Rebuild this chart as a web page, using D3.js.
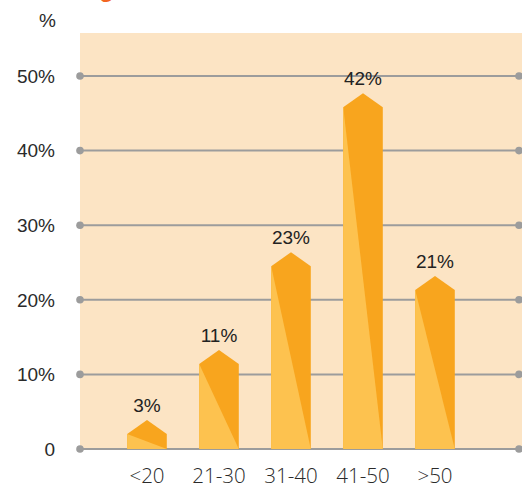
<!DOCTYPE html>
<html><head><meta charset="utf-8">
<script src="https://cdn.jsdelivr.net/npm/d3@7/dist/d3.min.js"></script>
<style>html,body{margin:0;padding:0;background:#fff;}svg{display:block;}</style>
</head><body>
<script>
const categories = ["<20", "21-30", "31-40", "41-50", ">50"];
const values = [3, 11, 23, 42, 21];              // labelled percentages
const drawnHeights = [2.0, 11.4, 24.5, 45.8, 21.3]; // bar shoulder heights as drawn (%)
const yTicks = [0, 10, 20, 30, 40, 50];
const yTickLabels = ["0", "10%", "20%", "30%", "40%", "50%"];

const W = 522, H = 488;
const svg = d3.select("body").append("svg").attr("width", W).attr("height", H);

const y = d3.scaleLinear().domain([0, 50]).range([449, 76]);
const x = d3.scaleBand().domain(categories).range([111, 471]).paddingInner(0.45).paddingOuter(0.225);

// title (cut off at top, as in the reference)
svg.append("text").attr("x", 82).attr("y", -3).attr("fill", "#F26522")
  .attr("font-family", "Liberation Sans, Arial, sans-serif").attr("font-weight", "bold")
  .attr("font-size", 24).text("Age");

// plot background
svg.append("rect").attr("x", 80).attr("y", 33).attr("width", W - 80).attr("height", y(0) - 33).attr("fill", "#FCE4C4");

// gridlines
const grid = svg.append("g");
yTicks.forEach(t => {
  grid.append("line").attr("x1", 80).attr("x2", 519).attr("y1", y(t)).attr("y2", y(t))
    .attr("stroke", "#9C9C9C").attr("stroke-width", 2);
  grid.append("circle").attr("cx", 80).attr("cy", y(t)).attr("r", 3.8).attr("fill", "#9C9C9C");
  grid.append("circle").attr("cx", 519).attr("cy", y(t)).attr("r", 3.8).attr("fill", "#9C9C9C");
});

// y labels
svg.append("g").selectAll("text").data(yTicks).join("text")
  .attr("x", 55).attr("y", d => y(d)).attr("dy", "0.36em").attr("text-anchor", "end")
  .attr("font-family", "Liberation Sans, Arial, sans-serif").attr("font-size", 19).attr("fill", "#2a2a2a")
  .text((d, i) => yTickLabels[i]);
svg.append("text").attr("x", 56).attr("y", 27).attr("text-anchor", "end")
  .attr("font-family", "Liberation Sans, Arial, sans-serif").attr("font-size", 19).attr("fill", "#2a2a2a").text("%");

// bars
const peak = 14;
const bars = svg.append("g").selectAll("g").data(categories).join("g");
bars.append("path").attr("fill", "#F8A51E").attr("d", (c, i) => {
  const x0 = x(c), x1 = x0 + x.bandwidth(), xc = x0 + x.bandwidth() / 2;
  const ys = y(drawnHeights[i]), yb = y(0);
  return `M${x0},${ys}L${xc},${ys - peak}L${x1},${ys}L${x1},${yb}L${x0},${yb}Z`;
});
bars.append("path").attr("fill", "#FDC24F").attr("d", (c, i) => {
  const x0 = x(c), x1 = x0 + x.bandwidth();
  const ys = y(drawnHeights[i]), yb = y(0);
  return `M${x0},${ys}L${x1},${yb}L${x0},${yb}Z`;
});
bars.append("text").attr("x", c => x(c) + x.bandwidth() / 2)
  .attr("y", (c, i) => y(drawnHeights[i]) - peak - 8).attr("text-anchor", "middle")
  .attr("font-family", "Liberation Sans, Arial, sans-serif").attr("font-size", 19).attr("fill", "#222")
  .text((c, i) => values[i] + "%");

// x labels
svg.append("g").selectAll("text").data(categories).join("text")
  .attr("x", c => x(c) + x.bandwidth() / 2).attr("y", 483).attr("text-anchor", "middle")
  .attr("font-family", "Open Sans, Noto Sans, sans-serif").attr("font-weight", 300)
  .attr("font-size", 20.5).attr("fill", "#2a2a2a").text(c => c);
</script>
</body></html>
